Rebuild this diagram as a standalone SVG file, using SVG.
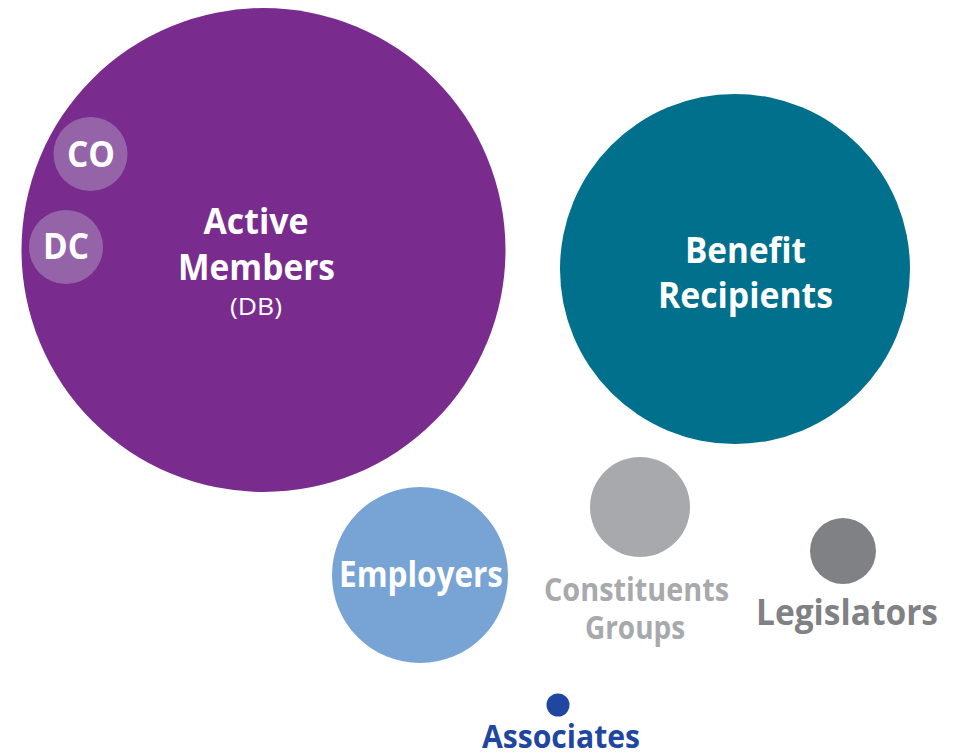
<svg xmlns="http://www.w3.org/2000/svg" width="960" height="754" viewBox="0 0 960 754">
<style>
text{font-family:"Open Sans","Liberation Sans",sans-serif;font-weight:700;text-anchor:middle}
.w{fill:#ffffff}
.reg{font-weight:400}
</style>
<rect width="960" height="754" fill="#ffffff"/>
<g id="active-members">
<circle cx="263.5" cy="250" r="242" fill="#7a2c8e"/>
<text class="w" x="256" y="234" font-size="36" textLength="105" lengthAdjust="spacingAndGlyphs">Active</text>
<text class="w" x="256.5" y="280" font-size="36" textLength="157" lengthAdjust="spacingAndGlyphs">Members</text>
<text class="w reg" x="256" y="315" font-size="23" textLength="52" lengthAdjust="spacingAndGlyphs">(DB)</text>
</g>
<g id="co">
<circle cx="90.5" cy="154" r="37" fill="#9564a8"/>
<text class="w" x="91" y="167" font-size="36" textLength="48" lengthAdjust="spacingAndGlyphs">CO</text>
</g>
<g id="dc">
<circle cx="66" cy="247" r="37" fill="#9564a8"/>
<text class="w" x="66" y="259" font-size="36" textLength="46" lengthAdjust="spacingAndGlyphs">DC</text>
</g>
<g id="benefit-recipients">
<circle cx="735" cy="269" r="175" fill="#00708c"/>
<text class="w" x="745.5" y="263" font-size="36" textLength="121" lengthAdjust="spacingAndGlyphs">Benefit</text>
<text class="w" x="745.5" y="308" font-size="36" textLength="175" lengthAdjust="spacingAndGlyphs">Recipients</text>
</g>
<g id="employers">
<circle cx="420" cy="575" r="88" fill="#77a3d5"/>
<text class="w" x="421" y="587" font-size="36" textLength="164" lengthAdjust="spacingAndGlyphs">Employers</text>
</g>
<g id="constituents-groups">
<circle cx="640" cy="507" r="50" fill="#a7a9ac"/>
<text x="636.5" y="601" font-size="32" fill="#a7a9ac" textLength="185" lengthAdjust="spacingAndGlyphs">Constituents</text>
<text x="635" y="639" font-size="32" fill="#a7a9ac" textLength="100" lengthAdjust="spacingAndGlyphs">Groups</text>
</g>
<g id="legislators">
<circle cx="843" cy="551" r="33" fill="#808184"/>
<text x="847" y="625" font-size="36" fill="#808184" textLength="182" lengthAdjust="spacingAndGlyphs">Legislators</text>
</g>
<g id="associates">
<circle cx="558" cy="705" r="11.5" fill="#1f46a0"/>
<text x="561" y="748" font-size="33" fill="#1f46a0" textLength="158" lengthAdjust="spacingAndGlyphs">Associates</text>
</g>
<g id="connectors"></g>
</svg>
